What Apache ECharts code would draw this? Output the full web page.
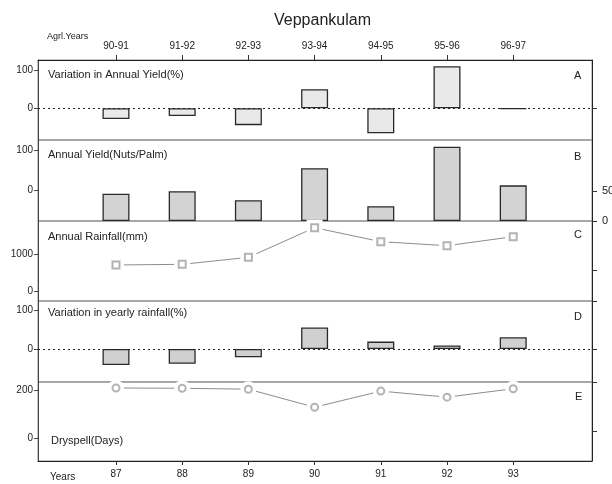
<!DOCTYPE html>
<html><head><meta charset="utf-8">
<script src="https://cdn.jsdelivr.net/npm/echarts@6/dist/echarts.min.js"></script>
<style>html,body{margin:0;padding:0;background:#fff}#c{width:612px;height:484px}</style>
</head><body><div id="c"></div>
<script>
var agrYears = ['90-91','91-92','92-93','93-94','94-95','95-96','96-97'];
var years = ['87','88','89','90','91','92','93'];
var yieldVar = [-28, -20, -44, 50, -65, 110, -2];
var yieldNuts = [46, 50, 35, 89, 25, 125, 60];
var rainfall = [703, 721, 910, 1712, 1333, 1225, 1468];
var rainVar = [-41, -38, -21, 55, 19, 9, 30];
var dryspell = [208, 207, 203, 128, 195, 170, 205];

var idx = years.map(function(_, i){ return i; });
function pts(arr){ return arr.map(function(v, i){ return [i, v]; }); }

var FONT = 'Liberation Sans, Arial, sans-serif';
var gridsPx = [[60,80],[140,81],[221,80],[301,81],[382,79]];
var grids = gridsPx.map(function(g){
  return {left:38, right:20, top:g[0], height:g[1], show:true, borderColor:'#8a8a8a', borderWidth:1,
    backgroundColor:'transparent', containLabel:false, outerBoundsMode:'none'};
});

var xAxes = grids.map(function(g, i){
  var ax = {type:'value', gridIndex:i, min:-1.178, max:7.19, show:false, splitLine:{show:false}, axisLine:{onZero:false}};
  if (i === 0) {
    ax = {type:'value', gridIndex:0, min:-1.178, max:7.19, position:'top', show:true,
      axisLine:{show:true, onZero:false, lineStyle:{color:'#222', width:1}},
      axisTick:{show:true, length:5, customValues: idx, lineStyle:{color:'#333'}},
      axisLabel:{customValues: idx, margin:9, fontSize:10, color:'#222', fontFamily:FONT,
        formatter:function(v){ return agrYears[Math.round(v)]; }},
      splitLine:{show:false}};
  }
  if (i === 4) {
    ax = {type:'value', gridIndex:4, min:-1.178, max:7.19, position:'bottom', show:true,
      axisLine:{show:true, onZero:false, lineStyle:{color:'#222', width:1}},
      axisTick:{show:true, length:4, customValues: idx, lineStyle:{color:'#333'}},
      axisLabel:{customValues: idx, margin:8, fontSize:10, color:'#222', fontFamily:FONT,
        formatter:function(v){ return years[Math.round(v)]; }},
      splitLine:{show:false}};
  }
  return ax;
});

function leftAxis(gi, min, max, labels){
  return {type:'value', gridIndex:gi, position:'left', min:min, max:max,
    axisLine:{show:true, onZero:false, lineStyle:{color:'#444'}},
    axisTick:{show:true, length:4, customValues:labels, lineStyle:{color:'#444'}},
    axisLabel:{customValues:labels, margin:5, fontSize:10, color:'#222', fontFamily:FONT,
      formatter:function(v){ return String(v); }},
    splitLine:{show:false}};
}
function rightAxis(gi, min, max, ticks, labels){
  return {type:'value', gridIndex:gi, position:'right', min:min, max:max,
    axisLine:{show:true, onZero:false, lineStyle:{color:'#222'}},
    axisTick:{show:true, length:5, customValues:ticks, lineStyle:{color:'#333'}},
    axisLabel:{show: !!labels, customValues:labels || [], margin:10, fontSize:11, color:'#222', fontFamily:FONT,
      formatter:function(v){ return String(v); }},
    splitLine:{show:false}};
}

var yAxes = [
  leftAxis(0, -82.8, 126.1, [0,100]),          // 0
  rightAxis(0, -82.8, 126.1, [0]),            // 1
  leftAxis(1, -77.5, 125, [0,100]),            // 2
  rightAxis(1, 0, 136.4, [0,50], [0,50]),      // 3 (bars)
  leftAxis(2, -270, 1892, [0,1000]),           // 4
  rightAxis(2, -270, 1892, [568]),             // 5
  leftAxis(3, -84.6, 123, [0,100]),            // 6
  rightAxis(3, -84.6, 123, [0,123]),           // 7
  leftAxis(4, -96, 233, [0,200]),              // 8
  rightAxis(4, -96, 233, [29,233])             // 9
];

function barSeries(xi, yi, data, fill, zeroLine){
  var s = {type:'bar', xAxisIndex:xi, yAxisIndex:yi, data:pts(data), barWidth:27,
    itemStyle:{color:fill, borderColor:'#2a2a2a', borderWidth:1.3}, silent:true, animation:false};
  if (zeroLine) {
    s.markLine = {silent:true, symbol:['none','none'], label:{show:false},
      lineStyle:{type:[2,3], color:'#222', width:1}, data:[{yAxis:0}]};
  }
  return s;
}
function markerLine(xi, yi, data, sym){
  return [
    {type:'line', xAxisIndex:xi, yAxisIndex:yi, data:pts(data), showSymbol:false,
      lineStyle:{color:'#8c8c8c', width:1}, animation:false, silent:true, z:2},
    {type:'scatter', xAxisIndex:xi, yAxisIndex:yi, data:pts(data), symbol:sym, symbolSize:16,
      itemStyle:{color:'#fff', opacity:1}, animation:false, silent:true, z:3},
    {type:'scatter', xAxisIndex:xi, yAxisIndex:yi, data:pts(data), symbol:'empty'+sym.charAt(0).toUpperCase()+sym.slice(1), symbolSize:7,
      itemStyle:{color:'#a0a0a0', borderWidth:1}, animation:false, silent:true, z:4}
  ];
}

var series = [
  barSeries(0, 0, yieldVar, '#e9e9e9', true),
  barSeries(1, 3, yieldNuts, '#d3d3d3', false)
].concat(markerLine(2, 4, rainfall, 'rect'))
 .concat([barSeries(3, 6, rainVar, '#d0d0d0', true)])
 .concat(markerLine(4, 8, dryspell, 'circle'));

function label(x, y, s, size){
  return {type:'text', x:x, y:y, silent:true, style:{text:s, fontSize:size||11, fill:'#222', fontFamily:FONT, verticalAlign:'middle'}};
}

var option = {
  animation:false,
  backgroundColor:'#fff',
  title:{text:'Veppankulam', left:269, top:8, textStyle:{fontSize:16, fontWeight:'normal', color:'#222', fontFamily:FONT}},
  grid:grids, xAxis:xAxes, yAxis:yAxes, series:series,
  graphic:[
    label(47, 37, 'Agrl.Years', 9),
    label(48, 75, 'Variation in Annual Yield(%)'),
    label(574, 76, 'A'),
    label(48, 155, 'Annual Yield(Nuts/Palm)'),
    label(574, 157, 'B'),
    label(48, 237, 'Annual Rainfall(mm)'),
    label(574, 235, 'C'),
    label(48, 313, 'Variation in yearly rainfall(%)'),
    label(574, 317, 'D'),
    label(575, 397, 'E'),
    label(51, 441, 'Dryspell(Days)'),
    label(50, 477, 'Years', 10)
  ]
};
var chart = echarts.init(document.getElementById('c'), null, {renderer:'canvas'});
chart.setOption(option);
</script>
</body></html>
